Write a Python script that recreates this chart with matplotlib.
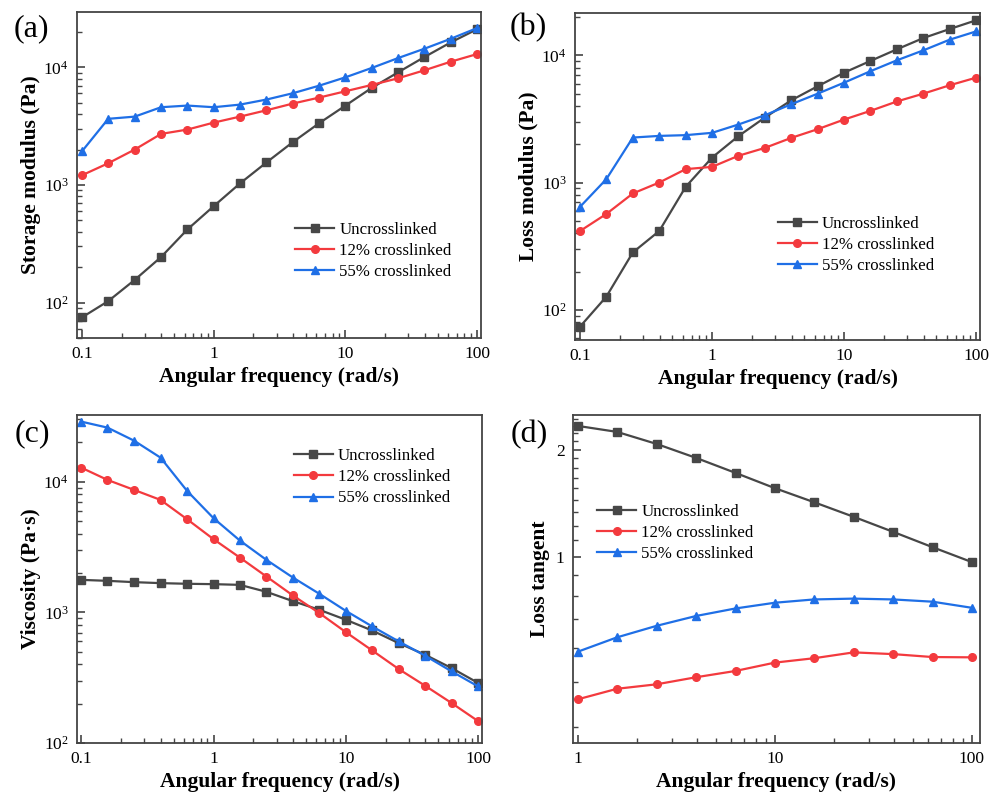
import numpy as np
import matplotlib
matplotlib.use("Agg")
import matplotlib.pyplot as plt
from matplotlib.ticker import FixedLocator, NullFormatter, LogLocator, FixedFormatter

plt.rcParams["font.family"] = ["Liberation Serif", "DejaVu Serif"]
plt.rcParams["mathtext.fontset"] = "custom"
plt.rcParams["mathtext.rm"] = "Liberation Serif"
plt.rcParams["mathtext.it"] = "Liberation Serif:italic"
plt.rcParams["mathtext.bf"] = "Liberation Serif:bold"

# angular frequencies (rad/s)
freq = [0.1, 0.158, 0.251, 0.398, 0.631, 1, 1.58, 2.51, 3.98, 6.31,
        10, 15.8, 25.1, 39.8, 63.1, 100]
freq_d = [1, 1.58, 2.51, 3.98, 6.31, 10, 15.8, 25.1, 39.8, 63.1, 100]

labels = ["Uncrosslinked", "12% crosslinked", "55% crosslinked"]

# (a) storage modulus, Pa
g1_un = [75, 103, 156, 244, 419, 661, 1030, 1553, 2311, 3350,
         4730, 6680, 9070, 12240, 16300, 21100]
g1_12 = [1210, 1530, 2000, 2717, 2958, 3390, 3810, 4313, 4920, 5530,
         6260, 7080, 8070, 9440, 11170, 12970]
g1_55 = [1937, 3650, 3810, 4580, 4730, 4580, 4820, 5320, 6020, 6980,
         8225, 9870, 11990, 14400, 17500, 21570]

# (b) loss modulus, Pa
g2_un = [74, 127, 283, 417, 927, 1574, 2317, 3245, 4435, 5718,
         7310, 9030, 11150, 13670, 16100, 18850]
g2_12 = [417, 567, 822, 1002, 1276, 1330, 1624, 1874, 2247, 2630,
         3130, 3660, 4340, 5000, 5820, 6680]
g2_55 = [646, 1064, 2260, 2328, 2360, 2461, 2860, 3383, 4130, 5000,
         6100, 7500, 9140, 10940, 13280, 15420]

# (c) complex viscosity, Pa.s
eta_un = [1771, 1741, 1701, 1672, 1653, 1642, 1622, 1435, 1217, 1045,
          877, 726, 581, 473, 374, 288]
eta_12 = [12790, 10300, 8640, 7240, 5155, 3625, 2624, 1879, 1345, 986,
          705, 511, 368, 274, 202, 147]
eta_55 = [28770, 25880, 20560, 15240, 8490, 5250, 3543, 2519, 1845, 1385,
          1026, 780, 599, 465, 353, 271]

# (d) loss tangent
tan_un = [2.33, 2.242, 2.074, 1.895, 1.72, 1.558, 1.423, 1.295, 1.175, 1.064, 0.966]
tan_12 = [0.398, 0.426, 0.4385, 0.459, 0.478, 0.5045, 0.519, 0.539, 0.533, 0.523, 0.522]
tan_55 = [0.5415, 0.594, 0.64, 0.682, 0.716, 0.743, 0.759, 0.763, 0.759, 0.748, 0.719]

colors = ["#474747", "#f33a3e", "#1f6fe6"]
markers = ["s", "o", "^"]
spine_col = "#444444"


def style_axes(ax):
    for s in ax.spines.values():
        s.set_color(spine_col)
        s.set_linewidth(1.3)
    ax.tick_params(which="both", direction="in", top=False, right=False,
                   colors=spine_col, labelcolor="black", labelsize=12.5)
    ax.tick_params(which="major", length=6, width=1.2, pad=6)
    ax.tick_params(which="minor", length=3.5, width=1.0)


def draw(ax, x, series):
    for y, c, m, lab in zip(series, colors, markers, labels):
        ax.plot(x, y, color=c, marker=m, markersize=5.5, linewidth=1.6, label=lab)
    ax.set_xscale("log")
    ax.set_yscale("log")
    style_axes(ax)


fig = plt.figure(figsize=(9.98, 7.98), dpi=100)
ax_a = fig.add_axes([0.0772, 0.5764, 0.4048, 0.4085])
ax_b = fig.add_axes([0.5762, 0.5739, 0.4058, 0.4098])
ax_c = fig.add_axes([0.0772, 0.0689, 0.4058, 0.4110])
ax_d = fig.add_axes([0.5741, 0.0689, 0.4078, 0.4110])

xlabel = "Angular frequency (rad/s)"
lab_kw = dict(fontsize=15.5, fontweight="bold")
leg_kw = dict(frameon=False, fontsize=12.2, handlelength=2.3, handletextpad=0.3,
              labelspacing=0.3, borderpad=0, borderaxespad=0)

xticks = [0.1, 1, 10, 100]
xtick_labels = ["0.1", "1", "10", "100"]

# (a)
draw(ax_a, freq, [g1_un, g1_12, g1_55])
ax_a.set_xlim(0.0916, 107)
ax_a.set_ylim(50, 29500)
ax_a.set_ylabel("Storage modulus (Pa)", labelpad=2, **lab_kw)
ax_a.legend(loc="center left", bbox_to_anchor=(0.54, 0.267), **leg_kw)

# (b)
draw(ax_b, freq, [g2_un, g2_12, g2_55])
ax_b.set_xlim(0.0916, 107)
ax_b.set_ylim(58, 21500)
ax_b.set_ylabel("Loss modulus (Pa)", labelpad=2, **lab_kw)
ax_b.legend(loc="center left", bbox_to_anchor=(0.50, 0.29), **leg_kw)

# (c)
draw(ax_c, freq, [eta_un, eta_12, eta_55])
ax_c.set_xlim(0.093, 107)
ax_c.set_ylim(100, 32300)
ax_c.set_ylabel("Viscosity (Pa·s)", labelpad=2, **lab_kw)
ax_c.legend(loc="center left", bbox_to_anchor=(0.535, 0.81), **leg_kw)

for ax in (ax_a, ax_b, ax_c):
    ax.xaxis.set_major_locator(FixedLocator(xticks))
    ax.xaxis.set_major_formatter(FixedFormatter(xtick_labels))
    ax.xaxis.set_minor_locator(LogLocator(base=10, subs=np.arange(2, 10)))
    ax.xaxis.set_minor_formatter(NullFormatter())
    ax.set_xlabel(xlabel, labelpad=3, **lab_kw)

# (d)
draw(ax_d, freq_d, [tan_un, tan_12, tan_55])
ax_d.set_xlim(0.944, 109.8)
ax_d.set_ylim(0.3, 2.5)
ax_d.xaxis.set_major_locator(FixedLocator([1, 10, 100]))
ax_d.xaxis.set_major_formatter(FixedFormatter(["1", "10", "100"]))
ax_d.xaxis.set_minor_locator(LogLocator(base=10, subs=np.arange(2, 10)))
ax_d.xaxis.set_minor_formatter(NullFormatter())
ax_d.yaxis.set_major_locator(FixedLocator([1, 2]))
ax_d.yaxis.set_major_formatter(FixedFormatter(["1", "2"]))
ax_d.yaxis.set_minor_locator(FixedLocator([k / 9 for k in range(1, 23) if k % 9]))
ax_d.yaxis.set_minor_formatter(NullFormatter())
ax_d.set_xlabel(xlabel, labelpad=3, **lab_kw)
ax_d.set_ylabel("Loss tangent", labelpad=4, **lab_kw)
ax_d.legend(loc="center left", bbox_to_anchor=(0.06, 0.64), **leg_kw)

# panel letters
for x, y, t in [(0.014, 0.964, "(a)"), (0.511, 0.966, "(b)"),
                (0.015, 0.456, "(c)"), (0.512, 0.456, "(d)")]:
    fig.text(x, y, t, fontsize=23, va="center", ha="left")

fig.savefig("out.png", dpi=100)
